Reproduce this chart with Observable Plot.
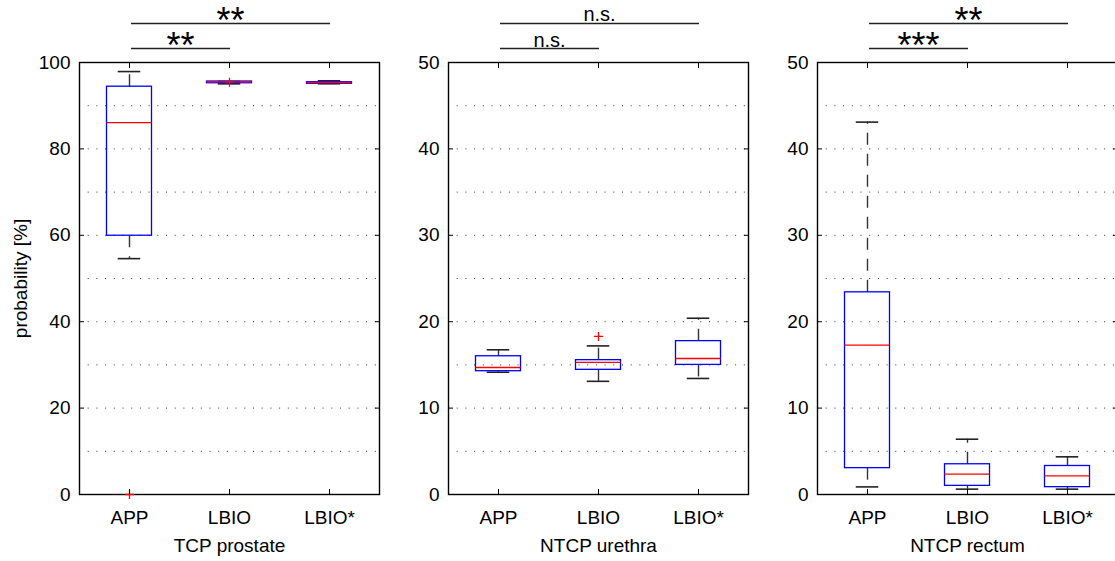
<!DOCTYPE html>
<html>
<head>
<meta charset="utf-8">
<script src="https://cdn.jsdelivr.net/npm/d3@7"></script>
<script src="https://cdn.jsdelivr.net/npm/@observablehq/plot@0.6"></script>
<style>
  html, body { margin: 0; padding: 0; background: #fff; overflow: hidden; }
  #chart { position: relative; width: 1115px; height: 561px; overflow: hidden; background: #fff; }
  #chart svg { position: absolute; top: 0; }
</style>
</head>
<body>
<div id="chart"></div>
<script>
// ---------- data ----------
const categories = ["APP", "LBIO", "LBIO*"];

// TCP prostate
const prostateTicks = [0, 20, 40, 60, 80, 100];
const prostateLo  = [54.6, 95.06, 95.07];
const prostateQ1  = [59.9, 95.2, 95.07];
const prostateMed = [86.1, 95.5, 95.37];
const prostateQ3  = [94.4, 95.6, 95.44];
const prostateHi  = [97.9, 95.6, 95.76];
const prostateOutliers = [{cat: "APP", value: 0}, {cat: "LBIO", value: 95.44}];
const prostateSig = [
  {from: "APP", to: "LBIO", label: "**", level: 0},
  {from: "APP", to: "LBIO*", label: "**", level: 1}
];

// NTCP urethra
const urethraTicks = [0, 10, 20, 30, 40, 50];
const urethraLo  = [14.15, 13.1, 13.43];
const urethraQ1  = [14.27, 14.43, 15.0];
const urethraMed = [14.7, 15.3, 15.74];
const urethraQ3  = [16.0, 15.55, 17.75];
const urethraHi  = [16.75, 17.2, 20.4];
const urethraOutliers = [{cat: "LBIO", value: 18.3}];
const urethraSig = [
  {from: "APP", to: "LBIO", label: "n.s.", level: 0},
  {from: "APP", to: "LBIO*", label: "n.s.", level: 1}
];

// NTCP rectum
const rectumTicks = [0, 10, 20, 30, 40, 50];
const rectumLo  = [0.88, 0.62, 0.62];
const rectumQ1  = [3.05, 1.0, 0.85];
const rectumMed = [17.3, 2.35, 2.16];
const rectumQ3  = [23.4, 3.5, 3.3];
const rectumHi  = [43.1, 6.4, 4.36];
const rectumOutliers = [];
const rectumSig = [
  {from: "APP", to: "LBIO", label: "***", level: 0},
  {from: "APP", to: "LBIO*", label: "**", level: 1}
];

// ---------- drawing ----------
const FONT = "'Liberation Sans', Arial, Helvetica, sans-serif";
const W = 385, H = 561, ML = 79, MR = 6, MT = 62, MB = 67;
const STEP = (W - ML - MR) / categories.length;
const BW = STEP * 0.45;

function panel({title, ticks, gridStep, lo, q1, med, q3, hi, outliers, sig, yLabel}) {
  const yMax = ticks[ticks.length - 1];
  const rows = categories.map((c, i) => ({cat: c, lo: lo[i], q1: q1[i], med: med[i], q3: q3[i], hi: hi[i]}));
  const grid = d3.range(gridStep, yMax, gridStep);
  const capInset = BW / 4;
  const marks = [
    Plot.ruleY(grid, {y: d => d, stroke: "#333", strokeWidth: 1, strokeDasharray: "1,7.7"}),
    Plot.ruleX(rows, {x: "cat", y1: "q3", y2: "hi", stroke: "#333", strokeWidth: 1.4, strokeDasharray: "12,9"}),
    Plot.ruleX(rows, {x: "cat", y1: "q1", y2: "lo", stroke: "#333", strokeWidth: 1.4, strokeDasharray: "12,9"}),
    Plot.tickY(rows, {x: "cat", y: "hi", stroke: "#222", strokeWidth: 1.6, insetLeft: capInset, insetRight: capInset}),
    Plot.tickY(rows, {x: "cat", y: "lo", stroke: "#222", strokeWidth: 1.6, insetLeft: capInset, insetRight: capInset}),
    Plot.barY(rows, {x: "cat", y1: "q1", y2: "q3", fill: "none", stroke: "#0000ff", strokeWidth: 1.3}),
    Plot.tickY(rows, {x: "cat", y: "med", stroke: "#ff0000", strokeWidth: 1.3}),
    Plot.frame({stroke: "#000", strokeWidth: 1.4}),
    Plot.dot(outliers, {x: "cat", y: "value", symbol: "plus", stroke: "#ff0000", r: 3, strokeWidth: 1.3}),
    Plot.axisY({ticks, anchor: "left", tickSize: 0, tickPadding: 9, label: null}),
    Plot.axisY({ticks, anchor: "left", tickSize: -5, fill: "none", label: null}),
    Plot.axisY({ticks, anchor: "right", tickSize: -5, fill: "none", label: null}),
    Plot.axisX({anchor: "bottom", tickSize: 0, tickPadding: 16, label: null}),
    Plot.axisX({anchor: "bottom", tickSize: -5, fill: "none", label: null}),
    Plot.axisX({anchor: "top", tickSize: -5, fill: "none", label: null}),
    Plot.text([title], {text: d => d, frameAnchor: "bottom", dy: 57, fill: "#000"})
  ];
  if (yLabel) {
    marks.push(Plot.text([yLabel], {text: d => d, frameAnchor: "left", textAnchor: "middle", dx: -59, rotate: -90, fill: "#000"}));
  }
  for (const s of sig) {
    const span = categories.indexOf(s.to) - categories.indexOf(s.from);
    const stars = s.label.includes("*");
    marks.push(Plot.ruleY([s], {x1: "from", x2: "to", y: () => yMax, dy: -14 - 25 * s.level,
      insetLeft: BW / 2 + 2, insetRight: BW / 2 - 1, stroke: "#222", strokeWidth: 1.6}));
    marks.push(Plot.text([s], {
      x: "from", y: () => yMax, text: "label",
      dx: STEP * span / 2 + 1,
      dy: stars ? -16 - 25 * s.level : -22 - 26 * s.level,
      fontSize: stars ? 36 : 20, fill: "#000"
    }));
  }
  return Plot.plot({
    width: W, height: H,
    marginLeft: ML, marginRight: MR, marginTop: MT, marginBottom: MB,
    x: {type: "band", domain: categories, paddingInner: 0.55, paddingOuter: 0.275, round: false, axis: null},
    y: {domain: [0, yMax], axis: null},
    style: {fontFamily: FONT, fontSize: "19px", background: "transparent", overflow: "visible", color: "#000"},
    marks
  });
}

const chart = document.getElementById("chart");
const panels = [
  panel({title: "TCP prostate", ticks: prostateTicks, gridStep: 10, lo: prostateLo, q1: prostateQ1, med: prostateMed, q3: prostateQ3, hi: prostateHi, outliers: prostateOutliers, sig: prostateSig, yLabel: "probability [%]"}),
  panel({title: "NTCP urethra", ticks: urethraTicks, gridStep: 5, lo: urethraLo, q1: urethraQ1, med: urethraMed, q3: urethraQ3, hi: urethraHi, outliers: urethraOutliers, sig: urethraSig}),
  panel({title: "NTCP rectum", ticks: rectumTicks, gridStep: 5, lo: rectumLo, q1: rectumQ1, med: rectumMed, q3: rectumQ3, hi: rectumHi, outliers: rectumOutliers, sig: rectumSig})
];
const offsets = [0, 369, 737.5];
panels.forEach((svg, i) => {
  svg.style.left = offsets[i] + "px";
  chart.appendChild(svg);
});
</script>
</body>
</html>
